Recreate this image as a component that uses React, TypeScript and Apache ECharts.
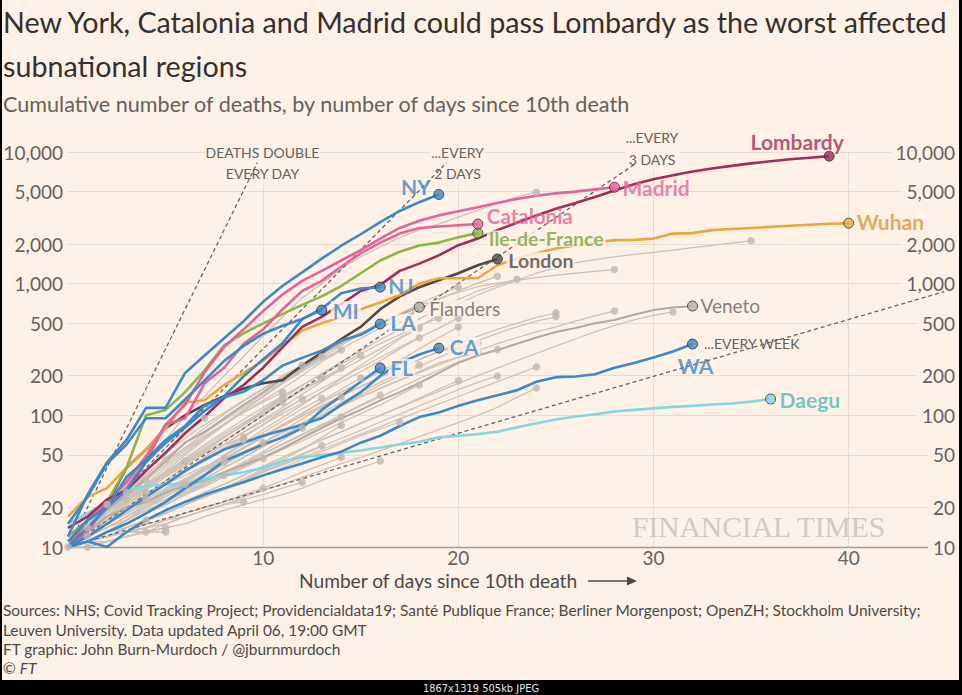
import React, { useEffect, useRef } from "react";
import * as echarts from "echarts";

// ---------- axis ticks ----------
const xTicks = [10, 20, 30, 40];
const yTicks = [10, 20, 50, 100, 200, 500, 1000, 2000, 5000, 10000];

// ---------- highlighted regions: cumulative deaths by day since 10th death ----------
const lombardy = [14, 17, 23, 27, 38, 52, 73, 98, 135, 170, 230, 330, 470, 560, 700, 880, 980, 1250, 1420, 1640, 1960, 2200, 2550, 2900, 3300, 3700, 4100, 4550, 5100, 5700, 6200, 6650, 7100, 7500, 7850, 8200, 8500, 8800, 9050, 9300];
const madrid = [10, 16, 22, 31, 49, 85, 120, 213, 330, 450, 620, 830, 1050, 1250, 1500, 1800, 2200, 2650, 3000, 3300, 3550, 3800, 4100, 4400, 4650, 4850, 5000, 5200, 5400];
const catalonia = [10, 13, 21, 28, 45, 85, 95, 175, 230, 350, 450, 640, 880, 1050, 1350, 1700, 2050, 2400, 2650, 2720, 2780, 2836];
const ileDeFrance = [12, 16, 22, 40, 100, 110, 150, 220, 340, 420, 500, 590, 690, 800, 960, 1200, 1500, 1750, 1950, 2050, 2250, 2420];
const london = [10, 16, 21, 40, 55, 80, 100, 120, 140, 160, 175, 185, 240, 300, 380, 470, 640, 800, 940, 1060, 1200, 1380, 1540];
const wuhan = [17, 24, 28, 40, 55, 80, 125, 130, 170, 210, 260, 340, 440, 500, 560, 640, 720, 820, 1000, 1100, 1100, 1100, 1380, 1550, 1700, 1850, 1950, 2050, 2140, 2150, 2200, 2400, 2420, 2550, 2600, 2650, 2700, 2750, 2800, 2850, 2880];
const newYork = [12, 25, 44, 65, 114, 114, 210, 285, 385, 519, 728, 965, 1218, 1550, 1941, 2373, 2935, 3565, 4159, 4758];
const newJersey = [11, 16, 20, 27, 44, 62, 81, 108, 140, 198, 267, 355, 537, 646, 846, 917, 942];
const michigan = [15, 24, 43, 60, 95, 95, 132, 184, 259, 337, 417, 479, 540, 630];
const louisiana = [10, 14, 20, 34, 46, 65, 83, 119, 137, 151, 185, 239, 273, 310, 370, 409, 494];
const california = [10, 12, 15, 19, 24, 30, 38, 46, 55, 62, 70, 77, 85, 95, 120, 150, 200, 250, 290, 324];
const florida = [10, 11, 13, 15, 18, 22, 28, 35, 45, 52, 60, 68, 80, 110, 140, 180, 229];
const washington = [10, 11, 10, 13, 16, 19, 22, 25, 28, 31, 35, 39, 43, 48, 53, 62, 70, 83, 97, 105, 118, 130, 142, 155, 180, 195, 197, 205, 230, 250, 275, 305, 348];
const daegu = [15, 18, 22, 27, 29, 30, 30, 33, 35, 37, 40, 45, 48, 50, 52, 54, 57, 60, 63, 68, 70, 72, 75, 81, 87, 93, 98, 102, 107, 110, 113, 116, 118, 121, 123, 127, 133];
const flanders = [10, 14, 19, 25, 33, 45, 62, 75, 95, 120, 150, 190, 230, 290, 360, 420, 500, 580, 663];
const veneto = [10, 13, 17, 20, 22, 26, 29, 32, 37, 42, 48, 56, 67, 80, 95, 110, 130, 150, 176, 210, 250, 285, 313, 350, 390, 430, 460, 500, 530, 580, 630, 660, 676];

// ---------- other regions (grey) ----------
const otherRegions = [
  [10],
  [10, 10],
  [10, 14],
  [10, 12],
  [10, 15, 21],
  [10, 15, 19, 26],
  [10, 13, 17, 23],
  [10, 14, 19, 25, 32],
  [10, 12, 16, 21, 26],
  [10, 13, 16, 19, 23],
  [10, 11, 13, 14, 16],
  [10, 11, 12, 13, 13],
  [10, 14, 20, 27, 36, 46],
  [10, 11, 12, 13, 13, 14],
  [10, 11, 11, 12, 13, 13],
  [10, 13, 18, 24, 30, 37, 45],
  [10, 12, 15, 18, 22, 26, 30],
  [10, 15, 22, 32, 45, 60, 75, 95],
  [10, 13, 16, 20, 25, 30, 35, 41, 47],
  [10, 12, 15, 19, 23, 28, 33, 38, 44],
  [10, 12, 14, 17, 20, 23, 27, 31, 35],
  [10, 14, 18, 23, 29, 36, 43, 51, 60, 68],
  [10, 12, 15, 19, 24, 30, 37, 45, 55, 65],
  [10, 11, 12, 13, 14, 15, 17, 19, 21, 22],
  [10, 12, 15, 18, 22, 27, 32, 38, 45, 53, 62],
  [10, 11, 13, 15, 18, 21, 25, 29, 34, 40, 47],
  [10, 11, 12, 13, 15, 16, 18, 20, 22, 25, 28],
  [10, 14, 19, 26, 34, 44, 56, 70, 86, 105, 126, 150],
  [10, 13, 17, 22, 28, 36, 45, 56, 69, 84, 104, 125],
  [10, 12, 16, 21, 27, 34, 43, 54, 68, 85, 110, 138],
  [10, 15, 21, 29, 39, 52, 67, 85, 105, 130, 160, 200, 240],
  [10, 12, 15, 19, 24, 30, 37, 45, 55, 68, 85, 108, 133],
  [10, 11, 13, 16, 19, 22, 26, 31, 37, 44, 53, 65, 80],
  [10, 11, 12, 13, 14, 16, 17, 19, 21, 23, 25, 28, 31],
  [10, 14, 19, 25, 33, 44, 57, 73, 92, 115, 145, 180, 225, 280],
  [10, 13, 17, 22, 28, 35, 44, 55, 68, 84, 104, 128, 158, 192],
  [10, 12, 15, 18, 22, 27, 33, 40, 49, 60, 74, 91, 112, 135],
  [10, 11, 12, 14, 16, 18, 21, 24, 28, 32, 38, 44, 51, 59],
  [10, 13, 18, 24, 32, 42, 54, 68, 85, 105, 130, 160, 200, 255, 313],
  [10, 12, 16, 21, 27, 34, 42, 52, 64, 80, 100, 125, 155, 190, 229],
  [10, 11, 13, 16, 20, 24, 29, 35, 42, 51, 62, 76, 94, 115, 138],
  [10, 12, 14, 16, 19, 22, 26, 30, 35, 41, 48, 57, 68, 82, 97],
  [10, 11, 12, 14, 16, 18, 21, 24, 28, 33, 39, 46, 55, 68, 84],
  [10, 11, 12, 13, 14, 16, 18, 20, 22, 25, 28, 32, 37, 42, 48],
  [10, 12, 15, 19, 24, 30, 38, 48, 60, 75, 93, 115, 145, 180, 230, 286],
  [10, 11, 13, 16, 20, 25, 31, 38, 46, 56, 68, 84, 104, 128, 158, 192],
  [10, 11, 13, 15, 18, 21, 25, 30, 36, 43, 51, 60, 71, 84, 100, 120, 142],
  [10, 10, 11, 12, 13, 14, 15, 17, 19, 21, 23, 25, 28, 32, 36, 40, 45],
  [10, 11, 12, 14, 16, 18, 21, 24, 27, 31, 35, 40, 46, 53, 61, 70, 79, 89],
  [10, 12, 14, 17, 21, 25, 30, 36, 43, 52, 62, 74, 88, 105, 125, 150, 178, 208, 241],
  [10, 11, 13, 15, 18, 21, 25, 29, 34, 40, 47, 55, 64, 75, 88, 103, 120, 143, 170],
  [10, 13, 17, 22, 28, 36, 46, 58, 72, 88, 108, 130, 155, 185, 220, 265, 320, 390, 460],
  [10, 12, 15, 19, 24, 30, 37, 46, 57, 70, 85, 103, 124, 150, 180, 215, 260, 320, 388],
  [10, 13, 17, 22, 29, 37, 47, 60, 75, 93, 115, 140, 170, 205, 245, 295, 350, 410, 480, 547],
  [10, 12, 15, 19, 24, 30, 38, 48, 60, 74, 90, 110, 133, 160, 192, 230, 275, 330, 390, 460, 547],
  [10, 11, 13, 16, 20, 25, 31, 38, 47, 57, 70, 85, 103, 125, 150, 180, 215, 260, 320, 390, 468],
  [10, 11, 12, 14, 16, 19, 22, 26, 30, 35, 41, 48, 56, 65, 75, 87, 100, 116, 135, 158, 183],
  [10, 14, 19, 26, 35, 47, 62, 80, 102, 128, 158, 195, 240, 290, 350, 420, 500, 590, 700, 820, 940],
  [10, 12, 14, 17, 21, 26, 32, 39, 47, 57, 69, 83, 99, 118, 140, 165, 195, 228, 265, 305, 330, 353],
  [10, 11, 13, 15, 18, 22, 27, 33, 40, 48, 58, 70, 84, 100, 118, 138, 160, 185, 215, 250, 275, 297],
  [10, 13, 17, 23, 30, 40, 52, 67, 86, 110, 140, 175, 215, 265, 320, 385, 460, 545, 640, 760, 880, 1010, 1140],
  [10, 11, 13, 15, 18, 21, 25, 30, 36, 43, 51, 61, 72, 85, 100, 118, 138, 162, 190, 220, 255, 285, 316],
  [10, 11, 12, 14, 16, 18, 21, 24, 28, 32, 37, 43, 50, 58, 67, 77, 89, 102, 118, 136, 157, 178, 199],
  [10, 12, 15, 19, 25, 32, 41, 53, 68, 86, 108, 135, 168, 208, 255, 310, 375, 450, 540, 640, 760, 880, 980, 1080],
  [10, 11, 12, 14, 16, 18, 21, 24, 28, 32, 37, 42, 48, 55, 63, 72, 82, 94, 107, 122, 139, 158, 180, 205, 233],
  [10, 10, 11, 12, 13, 15, 17, 19, 21, 24, 27, 30, 34, 38, 43, 48, 54, 61, 69, 78, 88, 100, 115, 137, 161],
  [10, 12, 14, 17, 21, 26, 32, 39, 47, 57, 69, 83, 99, 118, 140, 165, 195, 228, 265, 305, 350, 400, 450, 500, 555, 600],
  [10, 11, 13, 15, 18, 22, 27, 33, 40, 48, 58, 70, 84, 100, 120, 143, 170, 200, 235, 275, 320, 370, 420, 470, 520, 560],
  [10, 13, 17, 22, 29, 38, 50, 65, 84, 108, 138, 175, 220, 275, 340, 415, 500, 590, 680, 770, 860, 950, 1010, 1060, 1110, 1160, 1200, 1240, 1280],
  [10, 11, 13, 15, 18, 22, 27, 33, 40, 48, 58, 70, 84, 100, 118, 138, 160, 185, 212, 242, 275, 310, 350, 390, 430, 470, 520, 570, 620],
  [10, 11, 12, 14, 16, 19, 22, 26, 30, 35, 41, 48, 56, 65, 75, 87, 100, 115, 132, 152, 175, 200, 228, 260, 295, 335, 380, 430, 480, 530, 575, 610],
  [10, 12, 15, 18, 22, 27, 33, 40, 50, 62, 78, 96, 120, 150, 190, 240, 300, 380, 470, 580, 700, 820, 940, 1060, 1200, 1320, 1440, 1520, 1600, 1670, 1730, 1800, 1880, 1950, 2030, 2120],
  [10, 14, 20, 30, 45, 65, 100, 140, 200, 280, 400, 560, 780, 1000, 1300, 1600, 1900, 2250, 2550, 2850, 3200, 3600, 4100, 4550, 4950],
];

// ---------- doubling-time guide lines ----------
const guideEveryDay = [[0, 10], [9.7, 8300]];
const guideEvery2Days = [[0, 10], [19.4, 8300]];
const guideEvery3Days = [[0, 10], [29, 8000]];
const guideEveryWeek = [[0, 10], [44.9, 870]];

// ---------- styling ----------
const FONT = 'Lato, "Open Sans", "DejaVu Sans", sans-serif';
const BG = "#FFF1E5";
const GRID = "#E8DCD1";
const TXT = "#66605C";
const DARK = "#33302E";
const BLUE = "#3A89C9";
const PINK = "#E2649A";
const MAROON = "#A32C5A";

const toPts = (arr: number[]) => arr.map((v, i) => [i, v]);
const last = (arr: number[]) => [arr.length - 1, arr[arr.length - 1]];

type HL = {
  name: string;
  data: number[];
  color: string;
  labelColor: string;
  align: string;
  offset: number[];
  bold: boolean;
  bg: boolean;
  width: number;
  size?: number;
};

const highlights: HL[] = [
  { name: "Veneto", data: veneto, color: "#B3AAA2", labelColor: TXT, align: "left", offset: [8, -1], bold: false, bg: false, width: 2 },
  { name: "Flanders", data: flanders, color: "#B3AAA2", labelColor: TXT, align: "left", offset: [8, 1], bold: false, bg: true, width: 2 },
  { name: "London", data: london, color: "#4E4A47", labelColor: "#4E4A47", align: "left", offset: [9, 1.5], bold: true, bg: true, width: 2.6, size: 19.5 },
  { name: "Wuhan", data: wuhan, color: "#EBA73D", labelColor: "#DB9530", align: "left", offset: [8, -2], bold: true, bg: false, width: 2.6 },
  { name: "Daegu", data: daegu, color: "#85D6E2", labelColor: "#4DB8C4", align: "left", offset: [9, 0], bold: true, bg: false, width: 2.6 },
  { name: "Ile-de-France", data: ileDeFrance, color: "#8DB549", labelColor: "#7AA33A", align: "left", offset: [9, 5.5], bold: true, bg: true, width: 2.6, size: 19.5 },
  { name: "Catalonia", data: catalonia, color: PINK, labelColor: PINK, align: "left", offset: [9, -8], bold: true, bg: false, width: 2.6, size: 20.5 },
  { name: "Madrid", data: madrid, color: PINK, labelColor: PINK, align: "left", offset: [8, 0], bold: true, bg: false, width: 2.6 },
  { name: "Lombardy", data: lombardy, color: MAROON, labelColor: MAROON, align: "center", offset: [-32, -15], bold: true, bg: false, width: 2.6 },
  { name: "WA", data: washington, color: BLUE, labelColor: BLUE, align: "center", offset: [3, 21], bold: true, bg: false, width: 2.6 },
  { name: "FL", data: florida, color: BLUE, labelColor: BLUE, align: "left", offset: [8, 0], bold: true, bg: true, width: 2.6 },
  { name: "CA", data: california, color: BLUE, labelColor: BLUE, align: "left", offset: [9, -2], bold: true, bg: true, width: 2.6 },
  { name: "LA", data: louisiana, color: BLUE, labelColor: BLUE, align: "left", offset: [8, -1], bold: true, bg: true, width: 2.6 },
  { name: "MI", data: michigan, color: BLUE, labelColor: BLUE, align: "left", offset: [9, 0], bold: true, bg: true, width: 2.6 },
  { name: "NJ", data: newJersey, color: BLUE, labelColor: BLUE, align: "left", offset: [8, -2], bold: true, bg: false, width: 2.6 },
  { name: "NY", data: newYork, color: BLUE, labelColor: BLUE, align: "right", offset: [-8, -8], bold: true, bg: false, width: 2.6 },
];

const titleLines = [
  "New York, Catalonia and Madrid could pass Lombardy as the worst affected",
  "subnational regions",
];
const subtitle = "Cumulative number of deaths, by number of days since 10th death";
const xName = "Number of days since 10th death";
const sourceLines = [
  "Sources: NHS; Covid Tracking Project; Providencialdata19; Santé Publique France; Berliner Morgenpost; OpenZH; Stockholm University;",
  "Leuven University. Data updated April 06, 19:00 GMT",
  "FT graphic: John Burn-Murdoch / @jburnmurdoch",
];

function fitSize(text: string, weight: string, target: number, fallback: number) {
  try {
    const c = document.createElement("canvas").getContext("2d");
    if (!c) return fallback;
    c.font = `${weight} 100px ${FONT}`;
    const w = c.measureText(text).width;
    if (!w) return fallback;
    return (100 * target) / w;
  } catch (e) {
    return fallback;
  }
}

export default function App() {
  const ref = useRef<HTMLDivElement>(null);

  useEffect(() => {
    if (!ref.current) return;
    const chart = echarts.init(ref.current, null, { renderer: "svg" });

    const series: any[] = [];

    otherRegions.forEach((arr) => {
      series.push({
        type: "line",
        data: toPts(arr),
        symbol: "none",
        silent: true,
        lineStyle: { color: "#CCC2B9", width: 1.3 },
        z: 2,
      });
    });

    [guideEveryDay, guideEvery2Days, guideEvery3Days, guideEveryWeek].forEach((g) => {
      series.push({
        type: "line",
        data: g,
        symbol: "none",
        silent: true,
        lineStyle: { color: "#6B635D", width: 1.3, type: [4, 3] },
        z: 3,
      });
    });

    highlights.forEach((h) => {
      series.push({
        type: "line",
        name: h.name,
        data: toPts(h.data),
        symbol: "none",
        silent: true,
        lineStyle: { color: h.color, width: h.width },
        z: 4,
      });
    });

    series.push({
      type: "scatter",
      data: otherRegions.filter((a) => a.length > 0).map(last),
      symbol: "circle",
      symbolSize: 7.5,
      itemStyle: { color: "#C2B8AF" },
      silent: true,
      z: 5,
    });

    series.push({
      type: "scatter",
      data: highlights.map((h) => ({
        value: last(h.data),
        itemStyle: {
          color: h.bold ? h.color : "#B8AFA8",
          borderColor: DARK,
          borderWidth: 1,
        },
      })),
      symbol: "circle",
      symbolSize: 10,
      silent: true,
      z: 6,
    });

    series.push({
      type: "scatter",
      data: highlights.map((h) => {
        const fs = h.size || (h.bold ? 21 : 19);
        return {
          value: last(h.data),
          label: {
            show: true,
            position: "inside",
            formatter: h.name,
            align: h.align,
            verticalAlign: "middle",
            offset: h.offset,
            color: h.labelColor,
            fontFamily: FONT,
            fontWeight: h.bold ? "bold" : "normal",
            fontSize: fs,
            lineHeight: fs - 3,
            backgroundColor: h.bg ? BG : "transparent",
            padding: h.bg ? [0, 2, 0, 2] : 0,
          },
        };
      }),
      symbol: "circle",
      symbolSize: 1,
      itemStyle: { color: "transparent" },
      silent: true,
      z: 8,
    });

    const t1 = fitSize(titleLines[0], "400", 947, 27);
    const sub = fitSize(subtitle, "400", 629, 20);
    const src = fitSize(sourceLines[0], "400", 919, 15);
    const xn = fitSize(xName, "400", 279, 18);

    const txt = (text: string, x: number, y: number, size: number, fill: string, extra: any = {}) => ({
      type: "text",
      x,
      y,
      z: 1,
      silent: true,
      style: {
        text,
        fontSize: size,
        fontFamily: FONT,
        fill,
        align: "left",
        verticalAlign: "middle",
        ...extra,
      },
    });

    const annStyle = {
      fontSize: 14,
      fill: TXT,
      align: "center",
      verticalAlign: "middle",
      lineHeight: 21,
      backgroundColor: BG,
      padding: [0, 1, 0, 1],
    };

    const graphic: any[] = [
      txt(titleLines[0], 3, 22, t1, DARK),
      txt(titleLines[1], 3, 66, t1, DARK),
      txt(subtitle, 3, 104, sub, TXT),
      txt(xName, 299, 580, xn, "#4D4845"),
      {
        type: "line",
        silent: true,
        shape: { x1: 588, y1: 581, x2: 630, y2: 581 },
        style: { stroke: "#4D4845", lineWidth: 1.6 },
      },
      {
        type: "polygon",
        silent: true,
        shape: { points: [[627, 576.5], [637, 581], [627, 585.5]] },
        style: { fill: "#4D4845" },
      },
      txt(sourceLines[0], 3, 610, src, "#4D4845"),
      txt(sourceLines[1], 3, 630, src, "#4D4845"),
      txt(sourceLines[2], 3, 649, src, "#4D4845"),
      {
        type: "text",
        x: 3,
        y: 668,
        silent: true,
        style: {
          text: "{a|© }{b|FT}",
          verticalAlign: "middle",
          rich: {
            a: { fontSize: src, fontFamily: FONT, fill: "#4D4845" },
            b: { fontSize: src, fontFamily: FONT, fontStyle: "italic", fill: "#4D4845" },
          },
        },
      },
      {
        type: "text",
        x: 262.5,
        y: 162.5,
        z: 1,
        silent: true,
        style: { text: "DEATHS DOUBLE\nEVERY DAY", fontFamily: FONT, ...annStyle },
      },
      {
        type: "text",
        x: 457.5,
        y: 162.5,
        z: 1,
        silent: true,
        style: { text: "...EVERY\n2 DAYS", fontFamily: FONT, ...annStyle },
      },
      {
        type: "text",
        x: 652,
        y: 148,
        z: 1,
        silent: true,
        style: { text: "...EVERY\n3 DAYS", fontFamily: FONT, ...annStyle, lineHeight: 22 },
      },
      {
        type: "text",
        x: 703,
        y: 343,
        z: 1,
        silent: true,
        style: { text: "...EVERY WEEK", fontFamily: FONT, ...annStyle, align: "left" },
      },
      {
        type: "text",
        x: 632,
        y: 527,
        z: 1,
        silent: true,
        style: {
          text: "FINANCIAL TIMES",
          fontFamily: '"Liberation Serif", "DejaVu Serif", serif',
          fontSize: 29.5,
          fill: "#D3C9BF",
          align: "left",
          verticalAlign: "middle",
        },
      },
      {
        type: "rect",
        silent: true,
        shape: { x: 0, y: 680, width: 962, height: 15 },
        style: { fill: "#000" },
      },
      {
        type: "rect",
        silent: true,
        shape: { x: 0, y: 0, width: 2, height: 680 },
        style: { fill: "#000" },
      },
      {
        type: "rect",
        silent: true,
        shape: { x: 959, y: 0, width: 3, height: 680 },
        style: { fill: "#000" },
      },
      {
        type: "text",
        x: 481,
        y: 688,
        silent: true,
        style: {
          text: "1867x1319 505kb JPEG",
          fontFamily: '"DejaVu Sans Condensed", "DejaVu Sans", sans-serif',
          fontSize: 11,
          fill: "#E6E6E6",
          align: "center",
          verticalAlign: "middle",
        },
      },
    ];

    const fmt = (v: number) => Number(v).toLocaleString("en-US");

    chart.setOption({
      animation: false,
      backgroundColor: BG,
      grid: { left: 68, right: 6, top: 152, bottom: 148, containLabel: false },
      xAxis: {
        type: "value",
        min: 0,
        max: 45.5,
        axisLine: { show: true, lineStyle: { color: "#A39B94", width: 1.3 } },
        axisTick: { show: false, customValues: xTicks },
        axisLabel: {
          customValues: xTicks,
          color: TXT,
          fontSize: 19,
          fontFamily: FONT,
          margin: 1,
        },
        splitLine: { show: true, lineStyle: { color: GRID, width: 1 } },
      },
      yAxis: [
        {
          type: "log",
          logBase: 10,
          min: 10,
          max: 10000,
          position: "left",
          axisLine: { show: false },
          axisTick: { show: false, customValues: yTicks },
          axisLabel: {
            customValues: yTicks,
            formatter: fmt,
            color: TXT,
            fontSize: 19,
            fontFamily: FONT,
            margin: 5,
          },
          splitLine: { show: true, lineStyle: { color: GRID, width: 1 } },
        },
        {
          type: "log",
          logBase: 10,
          min: 10,
          max: 10000,
          position: "right",
          axisLine: { show: false },
          axisTick: { show: false, customValues: yTicks },
          axisLabel: {
            customValues: yTicks,
            formatter: fmt,
            inside: true,
            margin: 0,
            color: TXT,
            fontSize: 19,
            fontFamily: FONT,
            backgroundColor: BG,
            padding: [1, 1, 1, 5],
          },
          splitLine: { show: false },
        },
      ],
      series,
      graphic,
    });

    return () => chart.dispose();
  }, []);

  return (
    <div
      ref={ref}
      style={{ position: "fixed", left: 0, top: 0, width: 962, height: 695, background: BG }}
    />
  );
}
